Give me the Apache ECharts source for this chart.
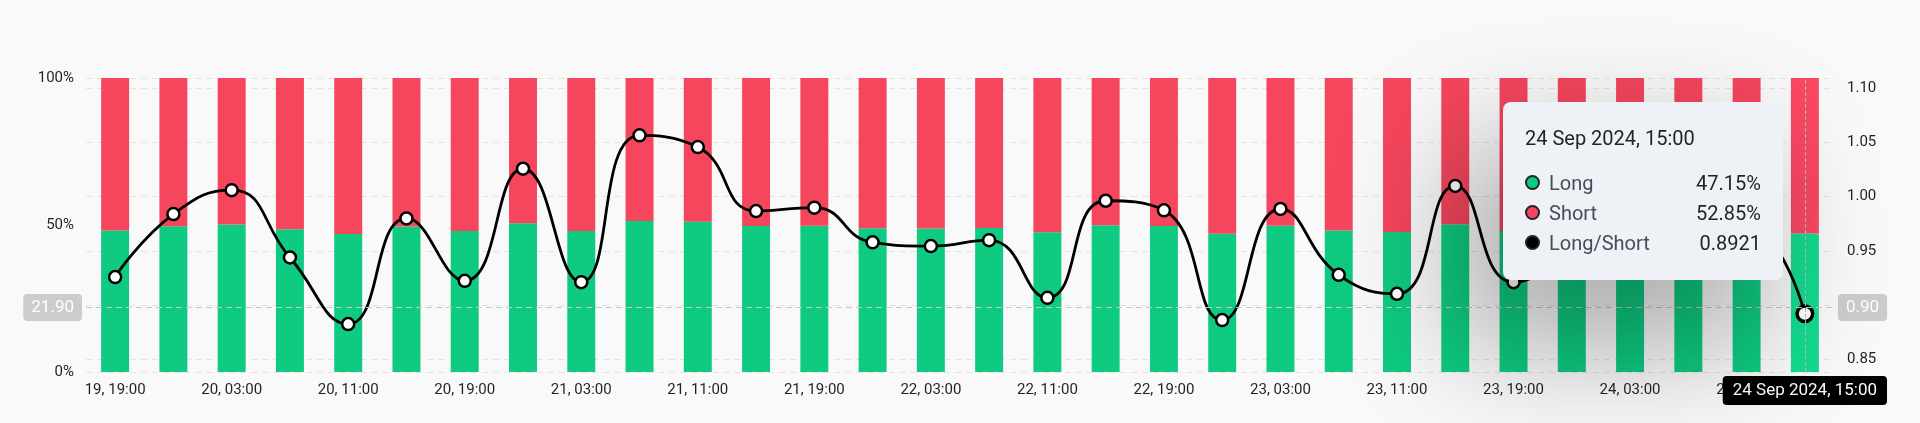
<!DOCTYPE html>
<html>
<head>
<meta charset="utf-8">
<script src="https://cdn.jsdelivr.net/npm/echarts@6/dist/echarts.min.js"></script>
<style>
html,body{margin:0;padding:0;background:#f9f9f9;}
#c{width:1920px;height:423px;}
</style>
</head>
<body>
<div id="c"></div>
<script>
const categories = [
  '2024-09-19 19:00','2024-09-19 23:00','2024-09-20 03:00','2024-09-20 07:00','2024-09-20 11:00',
  '2024-09-20 15:00','2024-09-20 19:00','2024-09-20 23:00','2024-09-21 03:00','2024-09-21 07:00',
  '2024-09-21 11:00','2024-09-21 15:00','2024-09-21 19:00','2024-09-21 23:00','2024-09-22 03:00',
  '2024-09-22 07:00','2024-09-22 11:00','2024-09-22 15:00','2024-09-22 19:00','2024-09-22 23:00',
  '2024-09-23 03:00','2024-09-23 07:00','2024-09-23 11:00','2024-09-23 15:00','2024-09-23 19:00',
  '2024-09-23 23:00','2024-09-24 03:00','2024-09-24 07:00','2024-09-24 11:00','2024-09-24 15:00'
];
const longPct = [
  48.10, 49.60, 50.15, 48.55, 46.90, 49.50, 47.98, 50.60, 47.95, 51.38,
  51.12, 49.67, 49.75, 48.90, 48.83, 48.98, 47.56, 49.90, 49.69, 46.99,
  49.72, 48.13, 47.66, 50.25, 47.95, 48.60, 49.20, 48.40, 49.30, 47.15
];
const shortPct = [
  51.90, 50.40, 49.85, 51.45, 53.10, 50.50, 52.02, 49.40, 52.05, 48.62,
  48.88, 50.33, 50.25, 51.10, 51.17, 51.02, 52.44, 50.10, 50.31, 53.01,
  50.28, 51.87, 52.34, 49.75, 52.05, 51.40, 50.80, 51.60, 50.70, 52.85
];
const ratio = [
  0.9260, 0.9840, 1.0060, 0.9440, 0.8826, 0.9800, 0.9225, 1.0258, 0.9213, 1.0566,
  1.0458, 0.9868, 0.9899, 0.9580, 0.9545, 0.9600, 0.9068, 0.9963, 0.9875, 0.8863,
  0.9887, 0.9280, 0.9105, 1.0100, 0.9213, 0.9460, 0.9690, 0.9380, 0.9720, 0.8921
];
const seriesNames = ['Long', 'Short', 'Long/Short'];
const pointerValueLeft = 21.9;

const MONTHS = ['Jan','Feb','Mar','Apr','May','Jun','Jul','Aug','Sep','Oct','Nov','Dec'];
function shortLabel(s){ return s.slice(8,10) + ', ' + s.slice(11); }
function longLabel(s){
  return s.slice(8,10) + ' ' + MONTHS[parseInt(s.slice(5,7),10)-1] + ' ' + s.slice(0,4) + ', ' + s.slice(11);
}

const FONT = 'Roboto';
const GREEN = '#0ecb81', RED = '#f6465d';
const TXT = '#1e2329';

const chart = echarts.init(document.getElementById('c'), null, {renderer:'canvas'});

function dot(c){
  return '<span style="display:inline-block;width:11px;height:11px;border-radius:50%;background:'+c+
    ';border:2px solid #1e2329;margin-right:9px;vertical-align:middle;position:relative;top:-2px"></span>';
}

const option = {
  animation: false,
  backgroundColor: '#f9f9f9',
  textStyle: {fontFamily: FONT},
  grid: {left: 86, right: 86, top: 78, bottom: 51},
  tooltip: {
    trigger: 'axis',
    triggerOn: 'none',
    alwaysShowContent: true,
    padding: 0,
    borderWidth: 0,
    backgroundColor: '#eef1f5',
    extraCssText: 'border-radius:8px;box-shadow:-35px 55px 120px 15px rgba(0,0,0,0.30);',
    position: function(){ return [1503, 102]; },
    axisPointer: {
      type: 'cross',
      crossStyle: {color: '#c8c8c8', type: [6, 4], width: 1},
      label: {backgroundColor: '#cccccc'}
    },
    formatter: function(params){
      const i = params[0].dataIndex;
      const row = (c, n, v) => '<div style="display:flex;justify-content:space-between;align-items:center;height:30px;line-height:30px;">' +
        '<span style="color:#474d57">' + dot(c) + n + '</span><span style="color:#1e2329">' + v + '</span></div>';
      return '<div style="width:236px;padding:22px 22px 22px 22px;font-family:Roboto;font-size:20px;">' +
        '<div style="color:#1e2329;height:28px;line-height:28px;margin-bottom:16px;">' + longLabel(categories[i]) + '</div>' +
        row(GREEN, seriesNames[0], longPct[i].toFixed(2) + '%') +
        row(RED, seriesNames[1], shortPct[i].toFixed(2) + '%') +
        row('#000', seriesNames[2], ratio[i].toFixed(4)) +
        '</div>';
    }
  },
  xAxis: {
    type: 'category',
    data: categories,
    boundaryGap: true,
    axisLine: {show: false},
    axisTick: {show: false},
    axisLabel: {
      interval: 1,
      margin: 11,
      color: TXT,
      fontSize: 15,
      fontFamily: FONT,
      formatter: shortLabel
    },
    axisPointer: {
      label: {
        backgroundColor: '#000',
        color: '#fff',
        fontSize: 17,
        fontFamily: FONT,
        padding: [6, 10, 6, 10],
        borderRadius: 4,
        margin: 4,
        formatter: p => longLabel(p.value)
      }
    }
  },
  yAxis: [
    {
      type: 'value',
      min: 0, max: 100, interval: 50,
      axisLine: {show: false},
      axisTick: {show: false},
      splitLine: {show: false},
      axisLabel: {color: TXT, fontSize: 15, fontFamily: FONT, margin: 12, formatter: '{value}%'},
      axisPointer: {
        label: {
          backgroundColor: '#cccccc', color: '#fff', fontSize: 17, fontFamily: FONT,
          padding: [5, 8, 5, 8], borderRadius: 4, margin: 4,
          formatter: p => Number(p.value).toFixed(2)
        }
      }
    },
    {
      type: 'value',
      position: 'right',
      min: v => v.min * 0.95,
      max: v => v.max * 1.05,
      splitNumber: 5,
      axisLine: {show: false},
      axisTick: {show: false},
      splitLine: {show: true, lineStyle: {color: '#e4e4e4', type: [6, 5], width: 1}},
      axisLabel: {
        color: TXT, fontSize: 15, fontFamily: FONT, margin: 13,
        showMinLabel: false, showMaxLabel: false,
        formatter: v => Number(v).toFixed(2)
      },
      axisPointer: {
        label: {
          backgroundColor: '#cccccc', color: '#fff', fontSize: 17, fontFamily: FONT,
          padding: [5, 8, 5, 8], borderRadius: 4, margin: 4,
          formatter: p => Number(p.value).toFixed(2)
        }
      }
    }
  ],
  series: [
    {
      name: seriesNames[0], type: 'bar', stack: 'ls', yAxisIndex: 0,
      barWidth: '48%', data: longPct, itemStyle: {color: GREEN},
      emphasis: {itemStyle: {color: '#13dc8f'}}
    },
    {
      name: seriesNames[1], type: 'bar', stack: 'ls', yAxisIndex: 0,
      barWidth: '48%', data: shortPct, itemStyle: {color: RED},
      emphasis: {itemStyle: {color: '#fb4863'}}
    },
    {
      name: seriesNames[2], type: 'line', yAxisIndex: 1, smooth: true,
      data: ratio, z: 5,
      symbol: 'circle', symbolSize: 12, showAllSymbol: true,
      lineStyle: {color: '#000', width: 2.8},
      itemStyle: {color: '#fff', borderColor: '#000', borderWidth: 2.5},
      emphasis: {scale: 1.3, itemStyle: {borderWidth: 3.5}, lineStyle: {width: 2.8}}
    }
  ]
};

chart.setOption(option);
const last = categories.length - 1;
const px = chart.convertToPixel({xAxisIndex: 0}, categories[last]);
const py = chart.convertToPixel({yAxisIndex: 0}, pointerValueLeft);
chart.dispatchAction({type: 'showTip', x: px, y: py});
chart.dispatchAction({type: 'highlight', seriesIndex: [0, 1], dataIndex: last});
</script>
</body>
</html>
